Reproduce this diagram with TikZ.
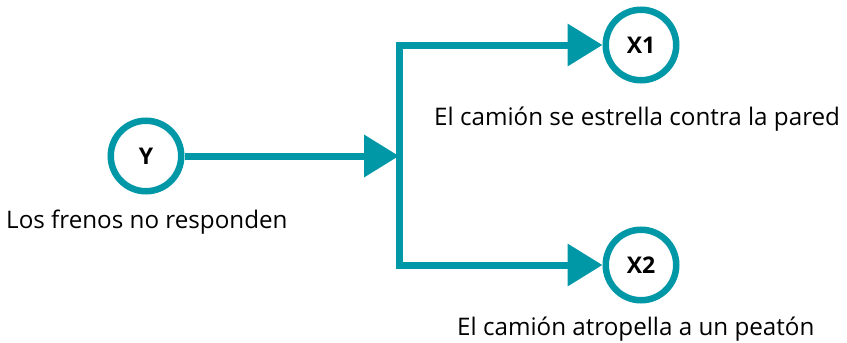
\documentclass[tikz,border=0pt]{standalone}
\usepackage{fontspec}
\setmainfont{Open Sans}
\usetikzlibrary{arrows.meta}
\definecolor{teal}{RGB}{0,151,167}
\tikzset{
  circ/.style={circle,draw=teal,line width=6.5pt,minimum size=70.5pt,inner sep=0pt,font=\fontsize{23}{24}\selectfont\bfseries},
  conn/.style={draw=teal,line width=7pt,-{Triangle[length=35pt,width=41pt]}},
  lbl/.style={anchor=base west,inner sep=0pt,font=\fontsize{24.2}{26}\selectfont}
}
\begin{document}
\begin{tikzpicture}[x=1pt,y=-1pt]
\useasboundingbox (0,0) rectangle (847,343);
\node[circ] (Y) at (146,156) {Y};
\node[circ] (X1) at (641,45) {X1};
\node[circ] (X2) at (641,265) {X2};
\coordinate (jm) at (399,156);
\draw[conn] (Y) -- (jm);
\draw[conn,line join=miter,{Triangle[length=35pt,width=41pt]}-{Triangle[length=35pt,width=41pt]}] (X1) -| (jm) |- (X2);
\node[lbl] (l0) at (6,228) {Los frenos no responden};
\node[lbl] (l1) at (434,125.5) {El camión se estrella contra la pared};
\node[lbl] (l2) at (457,335) {El camión atropella a un peatón};
\end{tikzpicture}
\end{document}
